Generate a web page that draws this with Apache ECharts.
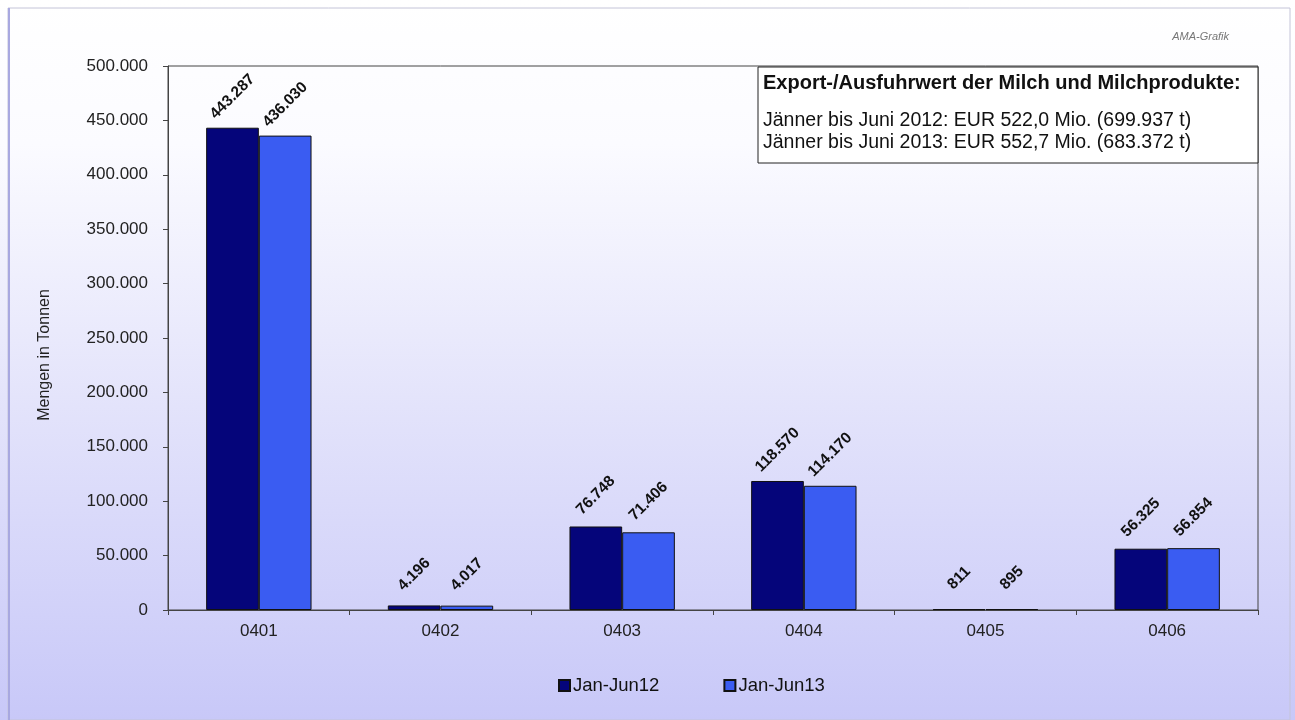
<!DOCTYPE html>
<html>
<head>
<meta charset="utf-8">
<script src="https://cdn.jsdelivr.net/npm/echarts@6/dist/echarts.min.js"></script>
<style>html,body{margin:0;padding:0;background:#fff}#c{width:1295px;height:720px}</style>
</head>
<body>
<div id="c"></div>
<script>
const categories = ['0401', '0402', '0403', '0404', '0405', '0406'];
const seriesNames = ['Jan-Jun12', 'Jan-Jun13'];
const values12 = [443287, 4196, 76748, 118570, 811, 56325];
const values13 = [436030, 4017, 71406, 114170, 895, 56854];
const yTicks = [0, 50000, 100000, 150000, 200000, 250000, 300000, 350000, 400000, 450000, 500000];
const yTitle = 'Mengen in Tonnen';
const boxTitle = 'Export-/Ausfuhrwert der Milch und Milchprodukte:';
const boxLines = ['Jänner bis Juni 2012: EUR 522,0 Mio. (699.937 t)', 'Jänner bis Juni 2013: EUR 552,7 Mio. (683.372 t)'];
const sourceText = 'AMA-Grafik';

function de(n) { return String(Math.round(n)).replace(/\B(?=(\d{3})+(?!\d))/g, '.'); }

const chart = echarts.init(document.getElementById('c'));
const font = 'Liberation Sans, Arial, sans-serif';
const labelCfg = {
  show: true, position: 'top', rotate: 45, align: 'center', verticalAlign: 'middle',
  distance: 31, fontFamily: font, fontWeight: 'bold', fontSize: 15.5, color: '#111',
  formatter: p => de(p.value)
};
chart.setOption({
  animation: false,
  backgroundColor: {
    type: 'linear', x: 0, y: 0, x2: 0, y2: 1,
    colorStops: [
      { offset: 0, color: '#ffffff' },
      { offset: 0.2, color: '#fbfbff' },
      { offset: 0.55, color: '#e4e4fb' },
      { offset: 1, color: '#c8c8f8' }
    ]
  },
  grid: { left: 168, right: 37, top: 66, bottom: 110, show: true, borderColor: '#444', borderWidth: 1, backgroundColor: 'transparent' },
  legend: {
    data: seriesNames, left: 553, top: 671, itemWidth: 11, itemHeight: 11, itemGap: 64,
    textStyle: { fontFamily: font, fontSize: 18.5, color: '#111', padding: [0, 0, 0, -2] }, icon: 'rect'
  },
  xAxis: {
    type: 'category', data: categories,
    axisLine: { lineStyle: { color: '#444' } },
    axisTick: { show: true, length: 5, lineStyle: { color: '#444' } },
    axisLabel: { fontFamily: font, fontSize: 17, color: '#222', margin: 13 }
  },
  yAxis: {
    type: 'value', min: yTicks[0], max: yTicks[yTicks.length - 1], interval: yTicks[1] - yTicks[0],
    axisLine: { show: true, lineStyle: { color: '#444' } },
    axisTick: { show: true, length: 5, lineStyle: { color: '#444' } },
    splitLine: { show: false },
    axisLabel: { fontFamily: font, fontSize: 17, color: '#222', margin: 20, formatter: v => de(v) }
  },
  series: [
    { name: seriesNames[0], type: 'bar', data: values12, barGap: '0%', barCategoryGap: '42%',
      itemStyle: { color: '#05057a', borderColor: '#111', borderWidth: 1 }, label: labelCfg },
    { name: seriesNames[1], type: 'bar', data: values13,
      itemStyle: { color: '#3a5cf2', borderColor: '#111', borderWidth: 1 }, label: labelCfg }
  ],
  graphic: [
    { type: 'rect', shape: { x: 8, y: 8, width: 1282, height: 712 }, style: { fill: 'none', stroke: '#c4c4d8', lineWidth: 1 }, silent: true },
    { type: 'rect', shape: { x: 8, y: 8, width: 2, height: 712 }, style: { fill: '#a8a8e0' }, silent: true },
    { type: 'text', x: 45, y: 355, rotation: Math.PI / 2,
      style: { text: yTitle, fontFamily: font, fontSize: 16, fill: '#222', align: 'center', verticalAlign: 'middle' } },
    { type: 'text', right: 66, top: 31, style: { text: sourceText, fontFamily: font, fontStyle: 'italic', fontSize: 11, fill: '#777' } },
    { type: 'rect', shape: { x: 758, y: 67, width: 500, height: 96 }, style: { fill: '#ffffff', stroke: '#222', lineWidth: 1 } },
    { type: 'text', left: 763, top: 73, style: { text: boxTitle, fontFamily: font, fontWeight: 'bold', fontSize: 20, fill: '#111' } },
    { type: 'text', left: 763, top: 111, style: { text: boxLines[0], fontFamily: font, fontSize: 19.5, fill: '#111' } },
    { type: 'text', left: 763, top: 133, style: { text: boxLines[1], fontFamily: font, fontSize: 19.5, fill: '#111' } }
  ]
});
</script>
</body>
</html>
